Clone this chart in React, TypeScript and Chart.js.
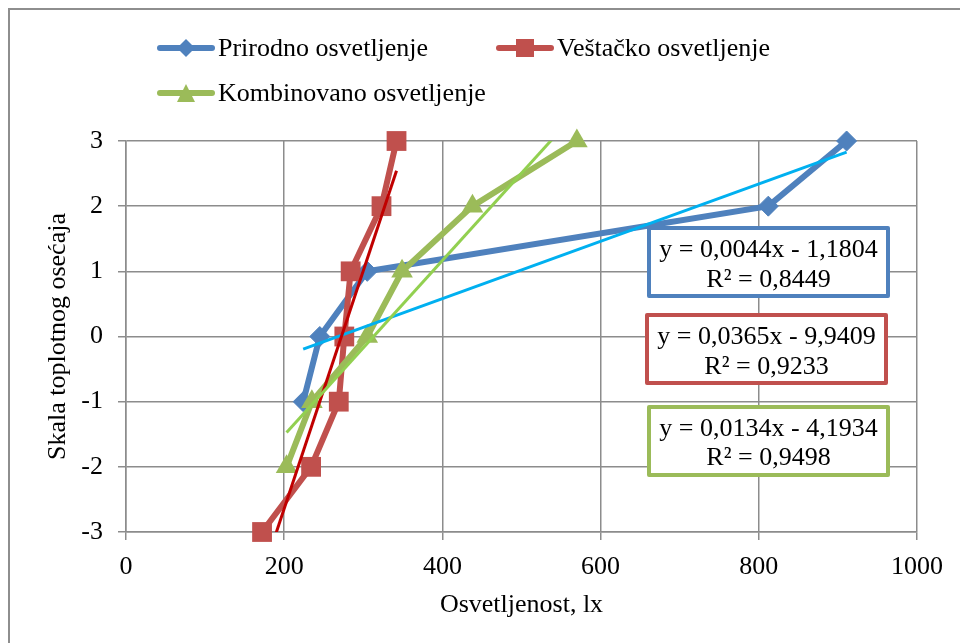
import { useEffect, useRef } from "react";
import { Chart, registerables } from "chart.js";

Chart.register(...registerables);

// ---------- data ----------
const seriesNames = ["Prirodno osvetljenje", "Veštačko osvetljenje", "Kombinovano osvetljenje"];

const prirodnoX = [224, 245, 305, 812, 911];
const prirodnoY = [-1, 0, 1, 2, 3];

const vestackoX = [172, 234, 269, 276, 284, 323, 342];
const vestackoY = [-3, -2, -1, 0, 1, 2, 3];

const kombinovanoX = [203, 235, 305, 349, 438, 570];
const kombinovanoY = [-2, -1, 0, 1, 2, 3];

const trendSlopes = [0.0044, 0.0365, 0.0134];
const trendIntercepts = [-1.1804, -9.9409, -4.1934];
const trendEquations = ["y = 0,0044x - 1,1804", "y = 0,0365x - 9,9409", "y = 0,0134x - 4,1934"];
const trendR2 = ["R² = 0,8449", "R² = 0,9233", "R² = 0,9498"];

const xAxisTitle = "Osvetljenost, lx";
const yAxisTitle = "Skala toplotnog osećaja";
const xRange = [0, 1000, 200];
const yRange = [-3, 3, 1];

// ---------- styles ----------
const FONT = "'Liberation Serif', 'Times New Roman', serif";
const seriesColors = ["#4F81BD", "#C0504D", "#9BBB59"];
const trendColors = ["#00B0F0", "#C00000", "#92D050"];
const gridColor = "#8c8c8c";

function pts(xs: number[], ys: number[]) {
  return xs.map((x, i) => ({ x, y: ys[i] }));
}
function trend(xs: number[], k: number) {
  const lo = Math.min(...xs);
  const hi = Math.max(...xs);
  return [
    { x: lo, y: trendSlopes[k] * lo + trendIntercepts[k] },
    { x: hi, y: trendSlopes[k] * hi + trendIntercepts[k] },
  ];
}

function drawMarker(ctx: CanvasRenderingContext2D, kind: string, x: number, y: number, s: number) {
  ctx.beginPath();
  if (kind === "diamond") {
    ctx.moveTo(x, y - s);
    ctx.lineTo(x + s, y);
    ctx.lineTo(x, y + s);
    ctx.lineTo(x - s, y);
  } else if (kind === "square") {
    ctx.rect(x - s, y - s, 2 * s, 2 * s);
  } else {
    ctx.moveTo(x, y - s);
    ctx.lineTo(x + s, y + s);
    ctx.lineTo(x - s, y + s);
  }
  ctx.closePath();
  ctx.fill();
}

const decorPlugin = {
  id: "decor",
  beforeDraw(chart: any) {
    const ctx = chart.ctx as CanvasRenderingContext2D;
    ctx.save();
    ctx.fillStyle = "#ffffff";
    ctx.fillRect(0, 0, chart.width, chart.height);
    ctx.strokeStyle = "#8e8e8e";
    ctx.lineWidth = 2;
    ctx.strokeRect(9, 9, chart.width + 20, chart.height + 20);
    ctx.restore();
  },
  afterDraw(chart: any) {
    const ctx = chart.ctx as CanvasRenderingContext2D;
    ctx.save();
    // legend
    const items = [
      { x: 158, y: 48, kind: "diamond", s: 9 },
      { x: 497, y: 48, kind: "square", s: 9 },
      { x: 158, y: 93, kind: "triangle", s: 9 },
    ];
    ctx.font = `26px ${FONT}`;
    ctx.textBaseline = "middle";
    ctx.textAlign = "left";
    items.forEach((it, i) => {
      ctx.strokeStyle = seriesColors[i];
      ctx.fillStyle = seriesColors[i];
      ctx.lineWidth = 6;
      ctx.lineCap = "round";
      ctx.beginPath();
      ctx.moveTo(it.x + 2, it.y);
      ctx.lineTo(it.x + 54, it.y);
      ctx.stroke();
      drawMarker(ctx, it.kind, it.x + 28, it.y, it.s);
      ctx.fillStyle = "#000";
      ctx.fillText(seriesNames[i], it.x + 60, it.y + 1);
    });
    // equation boxes
    const boxes = [
      { x: 649, y: 228, base1: 257, base2: 286.5 },
      { x: 647, y: 315, base1: 344, base2: 373.5 },
      { x: 649, y: 407, base1: 435.5, base2: 465 },
    ];
    boxes.forEach((b, i) => {
      ctx.fillStyle = "#fff";
      ctx.fillRect(b.x, b.y, 239, 68);
      ctx.strokeStyle = seriesColors[i];
      ctx.lineWidth = 4;
      ctx.lineJoin = "round";
      ctx.strokeRect(b.x, b.y, 239, 68);
      ctx.fillStyle = "#000";
      ctx.textAlign = "center";
      ctx.textBaseline = "alphabetic";
      ctx.font = `26px ${FONT}`;
      ctx.fillText(trendEquations[i], b.x + 119.5, b.base1);
      ctx.fillText(trendR2[i], b.x + 119.5, b.base2);
    });
    ctx.restore();
  },
};

export default function App() {
  const ref = useRef<HTMLCanvasElement | null>(null);

  useEffect(() => {
    if (!ref.current) return;
    const tickFont = { family: FONT, size: 26 };
    const chart = new Chart(ref.current, {
      type: "line",
      data: {
        datasets: [
          {
            label: seriesNames[0],
            data: pts(prirodnoX, prirodnoY),
            borderColor: seriesColors[0],
            backgroundColor: seriesColors[0],
            borderWidth: 6,
            pointStyle: "rectRot",
            pointRadius: 10,
            pointBorderWidth: 1,
            pointBackgroundColor: seriesColors[0],
            pointBorderColor: seriesColors[0],
            tension: 0,
            clip: false,
            order: 5,
          },
          {
            label: seriesNames[1],
            data: pts(vestackoX, vestackoY),
            borderColor: seriesColors[1],
            backgroundColor: seriesColors[1],
            borderWidth: 6,
            pointStyle: "rect",
            pointRadius: 14,
            pointBorderWidth: 0,
            pointBackgroundColor: seriesColors[1],
            pointBorderColor: seriesColors[1],
            tension: 0,
            clip: false,
            order: 4,
          },
          {
            label: seriesNames[2],
            data: pts(kombinovanoX, kombinovanoY),
            borderColor: seriesColors[2],
            backgroundColor: seriesColors[2],
            borderWidth: 6,
            pointStyle: "triangle",
            pointRadius: 12.5,
            pointBorderWidth: 0,
            pointBackgroundColor: seriesColors[2],
            pointBorderColor: seriesColors[2],
            tension: 0,
            clip: false,
            order: 3,
          },
          {
            label: "trend1",
            data: trend(prirodnoX, 0),
            borderColor: trendColors[0],
            borderWidth: 3,
            pointRadius: 0,
            clip: 0,
            order: 2,
          },
          {
            label: "trend2",
            data: trend(vestackoX, 1),
            borderColor: trendColors[1],
            borderWidth: 3,
            pointRadius: 0,
            clip: 0,
            order: 1,
          },
          {
            label: "trend3",
            data: trend(kombinovanoX, 2),
            borderColor: trendColors[2],
            borderWidth: 3,
            pointRadius: 0,
            clip: 0,
            order: 0,
          },
        ],
      },
      options: {
        responsive: false,
        animation: false,
        devicePixelRatio: 1,
        layout: { padding: { top: 141, right: 43, bottom: 0, left: 0 } },
        plugins: {
          legend: { display: false },
          tooltip: { enabled: false },
        },
        scales: {
          x: {
            type: "linear",
            min: xRange[0],
            max: xRange[1],
            afterFit: (s: any) => {
              s.height = 111;
            },
            ticks: {
              stepSize: xRange[2],
              font: tickFont,
              color: "#000",
              padding: 12,
              maxRotation: 0,
              callback: (v: any) => String(v),
            },
            grid: { color: gridColor, lineWidth: 1.5, tickLength: 8 },
            border: { color: gridColor, width: 1.5 },
            title: {
              display: true,
              text: xAxisTitle,
              color: "#000",
              font: { family: FONT, size: 26, lineHeight: 1 },
              padding: { top: 0, bottom: 25 },
            },
          },
          y: {
            type: "linear",
            min: yRange[0],
            max: yRange[1],
            afterFit: (s: any) => {
              s.width = 126;
            },
            ticks: {
              stepSize: yRange[2],
              font: tickFont,
              color: "#000",
              padding: 15,
              callback: (v: any) => String(v),
            },
            grid: { color: gridColor, lineWidth: 1.5, tickLength: 8 },
            border: { color: gridColor, width: 1.5 },
            title: {
              display: true,
              text: yAxisTitle,
              color: "#000",
              font: { family: FONT, size: 26, lineHeight: 1 },
              padding: { top: 45, bottom: 0 },
            },
          },
        },
      },
      plugins: [decorPlugin],
    } as any);
    return () => chart.destroy();
  }, []);

  return (
    <div style={{ position: "fixed", left: 0, top: 0, width: 960, height: 643, background: "#fff" }}>
      <canvas ref={ref} width={960} height={643} style={{ width: 960, height: 643, display: "block" }} />
    </div>
  );
}
